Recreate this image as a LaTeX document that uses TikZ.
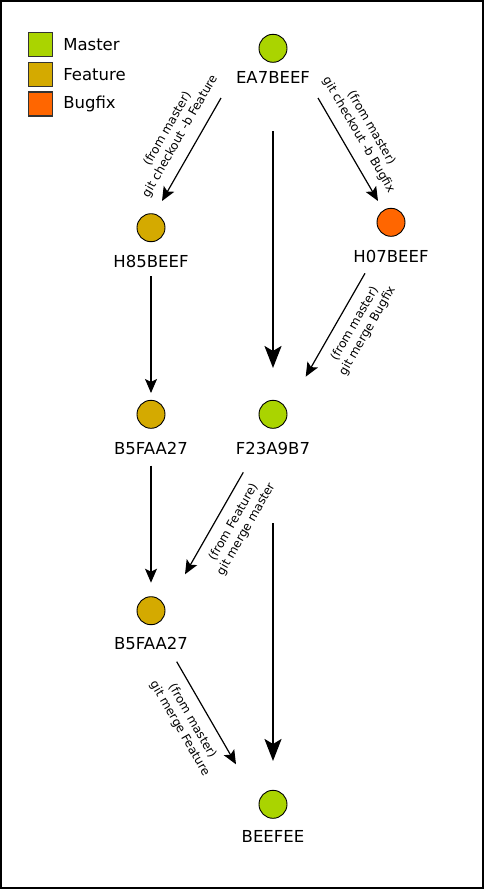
\documentclass[tikz,border=0pt]{standalone}
\usepackage{fontspec}
\setmainfont{DejaVu Sans}
\usetikzlibrary{arrows.meta, positioning}
\definecolor{mastergreen}{RGB}{170,212,0}
\definecolor{featuregold}{RGB}{212,170,0}
\definecolor{bugfixorange}{RGB}{255,102,0}

\begin{document}
\begin{tikzpicture}[
    x=1pt, y=-1pt,
    commit/.style={circle, draw=black, line width=0.9pt, minimum size=28pt, inner sep=0pt},
    hash/.style={font=\fontsize{16.5}{19}\selectfont, inner sep=0pt},
    legbox/.style={rectangle, draw=black!80, line width=1.2pt, minimum size=24pt, inner sep=0pt},
    legtext/.style={font=\fontsize{16.5}{19}\selectfont, inner sep=0pt},
    cmd/.style={font=\fontsize{12}{14.5}\selectfont, align=center, sloped, inner sep=10pt},
    arr/.style={-{Stealth[length=14pt, width=12pt, inset=3pt]}, line width=1.2pt},
    bigarr/.style={-{Stealth[length=22pt, width=17pt, inset=5pt]}, line width=2.4pt}
]

\useasboundingbox (0,0) rectangle (484,889);
\draw[line width=1.5pt] (1,1) rectangle (483,888);

% Legend
\node[legbox, fill=mastergreen] (kmaster) at (40.5,44.5) {};
\node[legbox, fill=featuregold, below=4.5pt of kmaster] (kfeature) {};
\node[legbox, fill=bugfixorange, below=4.5pt of kfeature] (kbugfix) {};
\node[legtext, right=10pt of kmaster] (tmaster) {Master};
\node[legtext, right=10pt of kfeature] (tfeature) {Feature};
\node[legtext, right=10pt of kbugfix] (tbugfix) {Bugfix};

% Commits
\node[commit, fill=mastergreen] (cEA7) at (273,48.3) {};
\node[hash, below=9pt of cEA7] (lEA7) {EA7BEEF};

\node[commit, fill=featuregold] (cH85) at (151,227.7) {};
\node[hash, below=13pt of cH85] (lH85) {H85BEEF};

\node[commit, fill=bugfixorange] (cH07) at (391,222.3) {};
\node[hash, below=13pt of cH07] (lH07) {H07BEEF};

\node[commit, fill=featuregold] (cB5) at (151,414.3) {};
\node[hash, below=13pt of cB5] (lB5) {B5FAA27};

\node[commit, fill=mastergreen] (cF23) at (273,414.3) {};
\node[hash, below=13pt of cF23] (lF23) {F23A9B7};

\node[commit, fill=featuregold] (cB5b) at (151,610.7) {};
\node[hash, below=12pt of cB5b] (lB5b) {B5FAA27};

\node[commit, fill=mastergreen] (cBEE) at (273,804.3) {};
\node[hash, below=12pt of cBEE] (lBEE) {BEEFEE};

% Branches
\draw[arr] ([shift={(-52,49.7)}]cEA7.center) -- node[cmd, above, pos=0.45]{(from master)\\git checkout -b Feature} ([shift={(11,-26.7)}]cH85.center);
\draw[arr] ([shift={(45,49.7)}]cEA7.center) -- node[cmd, above, pos=0.44]{(from master)\\git checkout -b Bugfix} ([shift={(-13,-21.3)}]cH07.center);
\draw[bigarr] ([shift={(0,82.7)}]cEA7.center) -- ([shift={(0,-46.3)}]cF23.center);

% Merges
\draw[arr] ([shift={(-26,51)}]cH07.center) -- node[cmd, below, pos=0.41]{(from master)\\git merge Bugfix} ([shift={(32.7,-37.6)}]cF23.center);
\draw[arr] ([shift={(0,48.3)}]cH85.center) -- ([shift={(0,-21.3)}]cB5.center);
\draw[arr] ([shift={(0,51.4)}]cB5.center) -- ([shift={(0,-28)}]cB5b.center);
\draw[arr] ([shift={(-29.7,58)}]cF23.center) -- node[cmd, below, pos=0.41]{(from Feature)\\git merge master} ([shift={(34,-36.4)}]cB5b.center);
\draw[bigarr] ([shift={(0,109)}]cF23.center) -- ([shift={(0,-43.3)}]cBEE.center);
\draw[arr] ([shift={(25.7,51)}]cB5b.center) -- node[cmd, below, pos=0.5]{(from master)\\git merge Feature} ([shift={(-37,-40)}]cBEE.center);

\end{tikzpicture}
\end{document}
